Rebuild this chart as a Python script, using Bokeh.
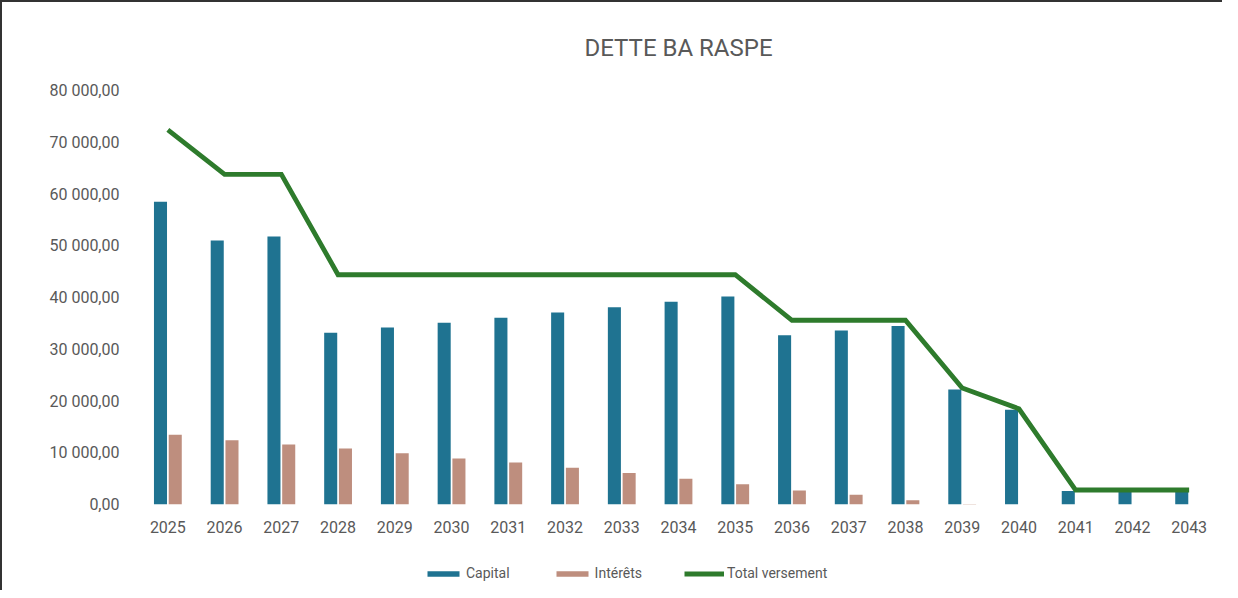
from bokeh.plotting import figure
from bokeh.layouts import column
from bokeh.models import (FactorRange, Range1d, ColumnDataSource, Legend, LegendItem,
                          CustomJSTickFormatter)
from bokeh.transform import dodge
from bokeh.embed import file_html
from bokeh.resources import INLINE

years = [str(y) for y in range(2025, 2044)]
capital = [58500, 51000, 51800, 33200, 34200, 35100, 36100, 37100, 38100, 39200,
           40200, 32700, 33600, 34500, 22200, 18300, 2600, 2700, 2700]
interets = [13500, 12400, 11600, 10800, 9900, 8900, 8100, 7100, 6100, 5000,
            3900, 2700, 1900, 800, 100, 0, 0, 0, 0]
total = [72400, 63800, 63800, 44400, 44400, 44400, 44400, 44400, 44400, 44400,
         44400, 35600, 35600, 35600, 22500, 18500, 2800, 2800, 2800]
series = ["Capital", "Intérêts", "Total versement"]

src = ColumnDataSource(dict(year=years, capital=capital, interets=interets, total=total))

FONT = "Roboto"
GREY = "#595959"
C_CAP = "#1F7391"
C_INT = "#BE8E7E"
C_TOT = "#2E7B2C"

p = figure(x_range=FactorRange(*years), y_range=Range1d(0, 80000),
           width=1220, height=542, output_backend="svg", toolbar_location=None,
           title="DETTE BA RASPE",
           min_border_left=137, min_border_right=5, min_border_top=88, min_border_bottom=40)

p.title.align = "center"
p.title.text_font = FONT
p.title.text_font_size = "24px"
p.title.text_font_style = "normal"
p.title.text_color = GREY
p.title.standoff = 58

p.vbar(x=dodge("year", -0.13, range=p.x_range), top="capital", width=0.23,
       source=src, fill_color=C_CAP, line_color=None)
p.vbar(x=dodge("year", 0.13, range=p.x_range), top="interets", width=0.23,
       source=src, fill_color=C_INT, line_color=None)
p.line(x="year", y="total", source=src, line_color=C_TOT, line_width=4.8,
       line_join="miter")

p.xgrid.visible = False
p.ygrid.visible = False
p.outline_line_color = None

for ax in (p.xaxis[0], p.yaxis[0]):
    ax.axis_line_color = None
    ax.major_tick_line_color = None
    ax.minor_tick_line_color = None
    ax.major_tick_out = 0
    ax.major_tick_in = 0
    ax.minor_tick_out = 0
    ax.major_label_text_font = FONT
    ax.major_label_text_font_size = "16px"
    ax.major_label_text_color = GREY

p.yaxis.ticker = list(range(0, 80001, 10000))
p.yaxis.major_label_standoff = 20
p.yaxis.formatter = CustomJSTickFormatter(code="""
    return tick.toFixed(2).replace('.', ',').replace(/\\B(?=(\\d{3})+(?!\\d))/g, ' ');
""")
p.xaxis.major_label_standoff = 16
p.x_range.range_padding = 0
p.x_range.group_padding = 0

# legend strip below the chart: same series/styles, renderers hidden (legend only)
lg = figure(width=1220, height=46, output_backend="svg", toolbar_location=None,
            x_range=FactorRange(*years), y_range=Range1d(0, 80000),
            x_axis_type=None, y_axis_type=None,
            min_border_left=137, min_border_right=5, min_border_top=0, min_border_bottom=0)
lg.outline_line_color = None
lg.xgrid.visible = False
lg.ygrid.visible = False
l_cap = lg.vbar(x="year", top="capital", width=0.23, source=src,
                fill_color=C_CAP, line_color=None, visible=False)
l_int = lg.vbar(x="year", top="interets", width=0.23, source=src,
                fill_color=C_INT, line_color=None, visible=False)
l_tot = lg.line(x="year", y="total", source=src, line_color=C_TOT, line_width=4.8,
                visible=False)

legend = Legend(items=[LegendItem(label=series[0], renderers=[l_cap]),
                       LegendItem(label=series[1], renderers=[l_int]),
                       LegendItem(label=series[2], renderers=[l_tot])],
                orientation="horizontal", location=(284, 9),
                glyph_width=40, glyph_height=7, label_standoff=3, spacing=42,
                padding=0, margin=0, border_line_color=None, background_fill_alpha=0,
                inactive_fill_alpha=0,
                label_text_font=FONT, label_text_font_size="14px", label_text_color=GREY)
lg.add_layout(legend, "center")

layout = column(p, lg, spacing=0,
                styles={"border-left": "2px solid #333", "border-top": "2px solid #333"})

open("out.html", "w").write(file_html(layout, INLINE))
